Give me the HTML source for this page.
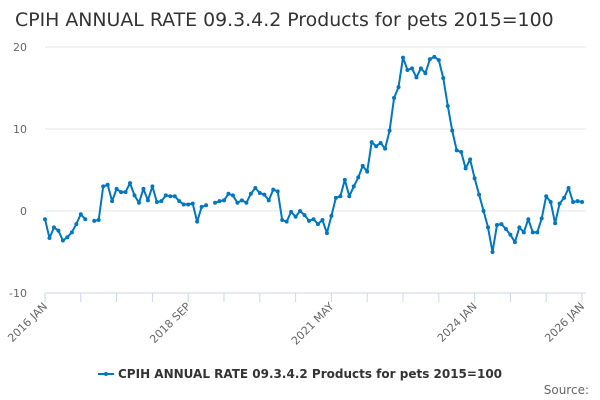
<!DOCTYPE html>
<html><head><meta charset="utf-8"><style>
body{margin:0;background:#fff;}
svg{display:block;font-family:"DejaVu Sans","Liberation Sans",sans-serif;}
</style></head><body>
<svg id="chart" width="600" height="400">
<rect width="600" height="400" fill="#fff"/>
<text x="15" y="26" font-size="18.9" fill="#333">CPIH ANNUAL RATE 09.3.4.2 Products for pets 2015=100</text>
<g id="grid"></g>
<g id="yaxis"></g>
<g id="xaxis"></g>
<g id="series"></g>
<g>
<line x1="98" y1="374" x2="114" y2="374" stroke="#0077c0" stroke-width="2"/>
<circle cx="106" cy="374" r="2" fill="#0077c0"/>
<text x="118" y="378" font-size="12" font-weight="bold" fill="#333">CPIH ANNUAL RATE 09.3.4.2 Products for pets 2015=100</text>
</g>
<text x="589" y="394" font-size="12" fill="#666" text-anchor="end">Source:</text>
</svg>
<script>
const values = [-1.0,-3.3,-2.0,-2.4,-3.6,-3.2,-2.6,-1.6,-0.4,-1.0,null,-1.2,-1.1,3.0,3.2,1.2,2.7,2.3,2.3,3.4,1.9,1.0,2.7,1.3,3.0,1.1,1.2,1.9,1.8,1.8,1.2,0.8,0.8,0.9,-1.3,0.5,0.7,null,1.0,1.2,1.3,2.1,1.9,1.0,1.3,1.0,2.1,2.8,2.2,2.0,1.3,2.6,2.4,-1.1,-1.3,-0.1,-0.7,0,-0.5,-1.2,-1.0,-1.6,-1.1,-2.7,-0.6,1.6,1.8,3.8,1.8,3.0,4.1,5.5,4.8,8.4,7.9,8.3,7.6,9.8,13.8,15.1,18.7,17.2,17.4,16.3,17.4,16.8,18.5,18.8,18.4,16.2,12.8,9.8,7.4,7.2,5.2,6.3,4.0,2.0,0,-2.0,-5.0,-1.7,-1.6,-2.2,-2.9,-3.8,-2.0,-2.6,-1.0,-2.6,-2.6,-0.9,1.8,1.1,-1.5,0.9,1.6,2.8,1.1,1.2,1.1];
const yTicks = [-10,0,10,20];
const xTickLabels = ["2016 JAN","2018 SEP","2021 MAY","2024 JAN","2026 JAN"];
const xTickIdx = [0,32,64,96,120];
const NS="http://www.w3.org/2000/svg";
const x0=45,x1=582,yTop=47,yBot=293;
const xs=i=>x0+(x1-x0)*i/120;
const ys=v=>yBot-(v-(-10))/30*(yBot-yTop);
function mk(t,a,p){const e=document.createElementNS(NS,t);for(const k in a)e.setAttribute(k,a[k]);p.appendChild(e);return e;}
const grid=document.getElementById('grid'),ya=document.getElementById('yaxis'),xa=document.getElementById('xaxis'),sg=document.getElementById('series');
yTicks.forEach(v=>{
  if(v!==-10){const l=mk('line',{x1:x0,x2:x1+4,y1:ys(v),y2:ys(v),stroke:'#e6e6e6','stroke-width':1},grid);
  
  }
  const t=mk('text',{x:27,y:ys(v)+4,'font-size':11,fill:'#666','text-anchor':'end'},ya);
  t.textContent=v;
  
  
});
const ax=mk('line',{x1:x0,x2:x1+4,y1:yBot,y2:yBot,stroke:'#ccd6eb','stroke-width':1},xa);


for(let i=0;i<=120;i+=8){const tk=mk('line',{x1:xs(i),x2:xs(i),y1:yBot,y2:yBot+9,stroke:'#ccd6eb'},xa);

}
xTickLabels.forEach((s,k)=>{const X=xs(xTickIdx[k])+3,Y=yBot+14;
  const t=mk('text',{x:X,y:Y,'font-size':11,fill:'#666','text-anchor':'end',transform:`rotate(-45 ${X} ${Y})`},xa);
  t.textContent=s;
  
  });
let d='',pen=false;
values.forEach((v,i)=>{if(v===null){pen=false;return;}d+=(pen?'L':'M')+xs(i).toFixed(1)+' '+ys(v).toFixed(1);pen=true;});
const p=mk('path',{d:d,fill:'none',stroke:'#0077c0','stroke-width':2,'stroke-linejoin':'round'},sg);


values.forEach((v,i)=>{if(v===null)return;const c=mk('circle',{cx:xs(i),cy:ys(v),r:2,fill:'#0077c0'},sg);

});
</script>
</body></html>
